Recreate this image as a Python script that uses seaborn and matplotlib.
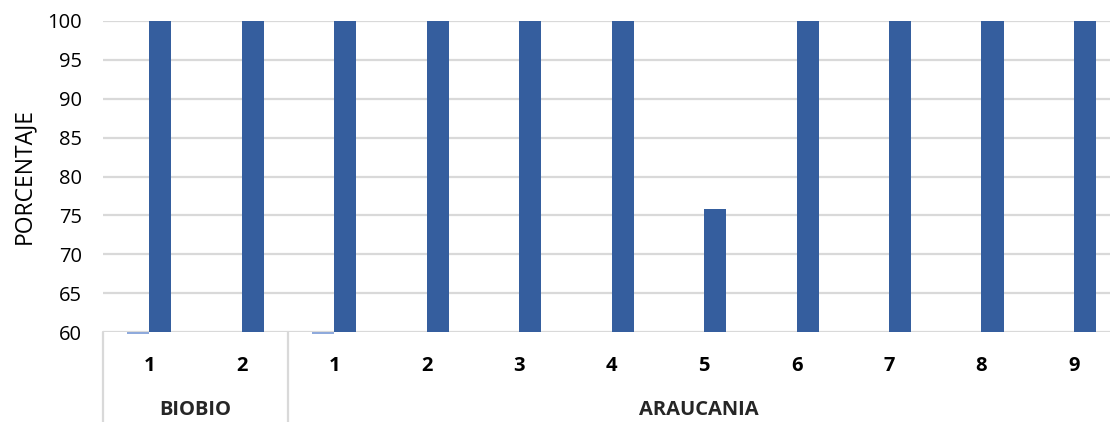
import matplotlib
matplotlib.use("Agg")
import matplotlib.pyplot as plt
import seaborn as sns
import pandas as pd
import numpy as np

regions = ["BIOBIO", "BIOBIO", "ARAUCANIA", "ARAUCANIA", "ARAUCANIA", "ARAUCANIA",
           "ARAUCANIA", "ARAUCANIA", "ARAUCANIA", "ARAUCANIA", "ARAUCANIA"]
sites = ["1", "2", "1", "2", "3", "4", "5", "6", "7", "8", "9"]
serie_a = [59.7, np.nan, 59.7, np.nan, np.nan, np.nan, np.nan, np.nan, np.nan, np.nan, np.nan]
serie_b = [100, 100, 100, 100, 100, 100, 75.8, 100, 100, 100, 100]
y_ticks = [60, 65, 70, 75, 80, 85, 90, 95, 100]

sns.set_theme(style="white")
plt.rcParams["font.family"] = ["Open Sans", "DejaVu Sans"]

keys = [f"{r}-{s}" for r, s in zip(regions, sites)]
df = pd.DataFrame({
    "key": keys * 2,
    "serie": ["A"] * len(keys) + ["B"] * len(keys),
    "valor": serie_a + serie_b,
})

fig = plt.figure(figsize=(11.10, 4.22), dpi=100)
ax = fig.add_axes([103 / 1110, 1 - 332 / 422, 1 - 103 / 1110, (332 - 21) / 422])

sns.barplot(data=df, x="key", y="valor", hue="serie", order=keys, hue_order=["A", "B"],
            palette=["#8FAADC", "#355E9E"], saturation=1, width=0.48, dodge=True,
            legend=False, linewidth=0, errorbar=None, ax=ax)

base = 60
for p in ax.patches:
    h = p.get_height()
    if np.isnan(h):
        continue
    p.set_y(base)
    p.set_height(h - base)
    p.set_clip_on(False)

xmax = 10.39
ax.set_ylim(60, 100)
ax.set_xlim(-0.5, xmax)
ax.set_yticks(y_ticks)
ax.set_yticklabels([str(t) for t in y_ticks], fontsize=14.5, color="#000000")
ax.tick_params(axis="y", length=0, pad=15)
ax.yaxis.grid(True, color="#D9D9D9", linewidth=1.6)
ax.set_axisbelow(True)
for s in ax.spines.values():
    s.set_visible(False)

ax.set_xticks(range(len(sites)))
ax.set_xticklabels(sites, fontsize=14.5, fontweight="bold", color="#000000")
ax.tick_params(axis="x", length=0, pad=17)
ax.set_xlabel("")
ax.set_ylabel("PORCENTAJE", fontsize=16.5, color="#000000", labelpad=8)

# group labels and separators
trans = ax.get_xaxis_transform()
groups = []
for i, r in enumerate(regions):
    if not groups or groups[-1][0] != r:
        groups.append([r, i, i])
    else:
        groups[-1][2] = i
yb = -(422 - 332) / 311
for name, i0, i1 in groups:
    ax.text((i0 + i1) / 2 if name == "BIOBIO" else (i0 - 0.5 + xmax) / 2, -0.25, name,
            transform=trans, ha="center", va="center", fontsize=14.5, fontweight="bold")
    ax.plot([i0 - 0.5, i0 - 0.5], [0, yb], transform=trans, color="#D9D9D9",
            linewidth=1.6, clip_on=False)

fig.savefig("out.png", dpi=100)
